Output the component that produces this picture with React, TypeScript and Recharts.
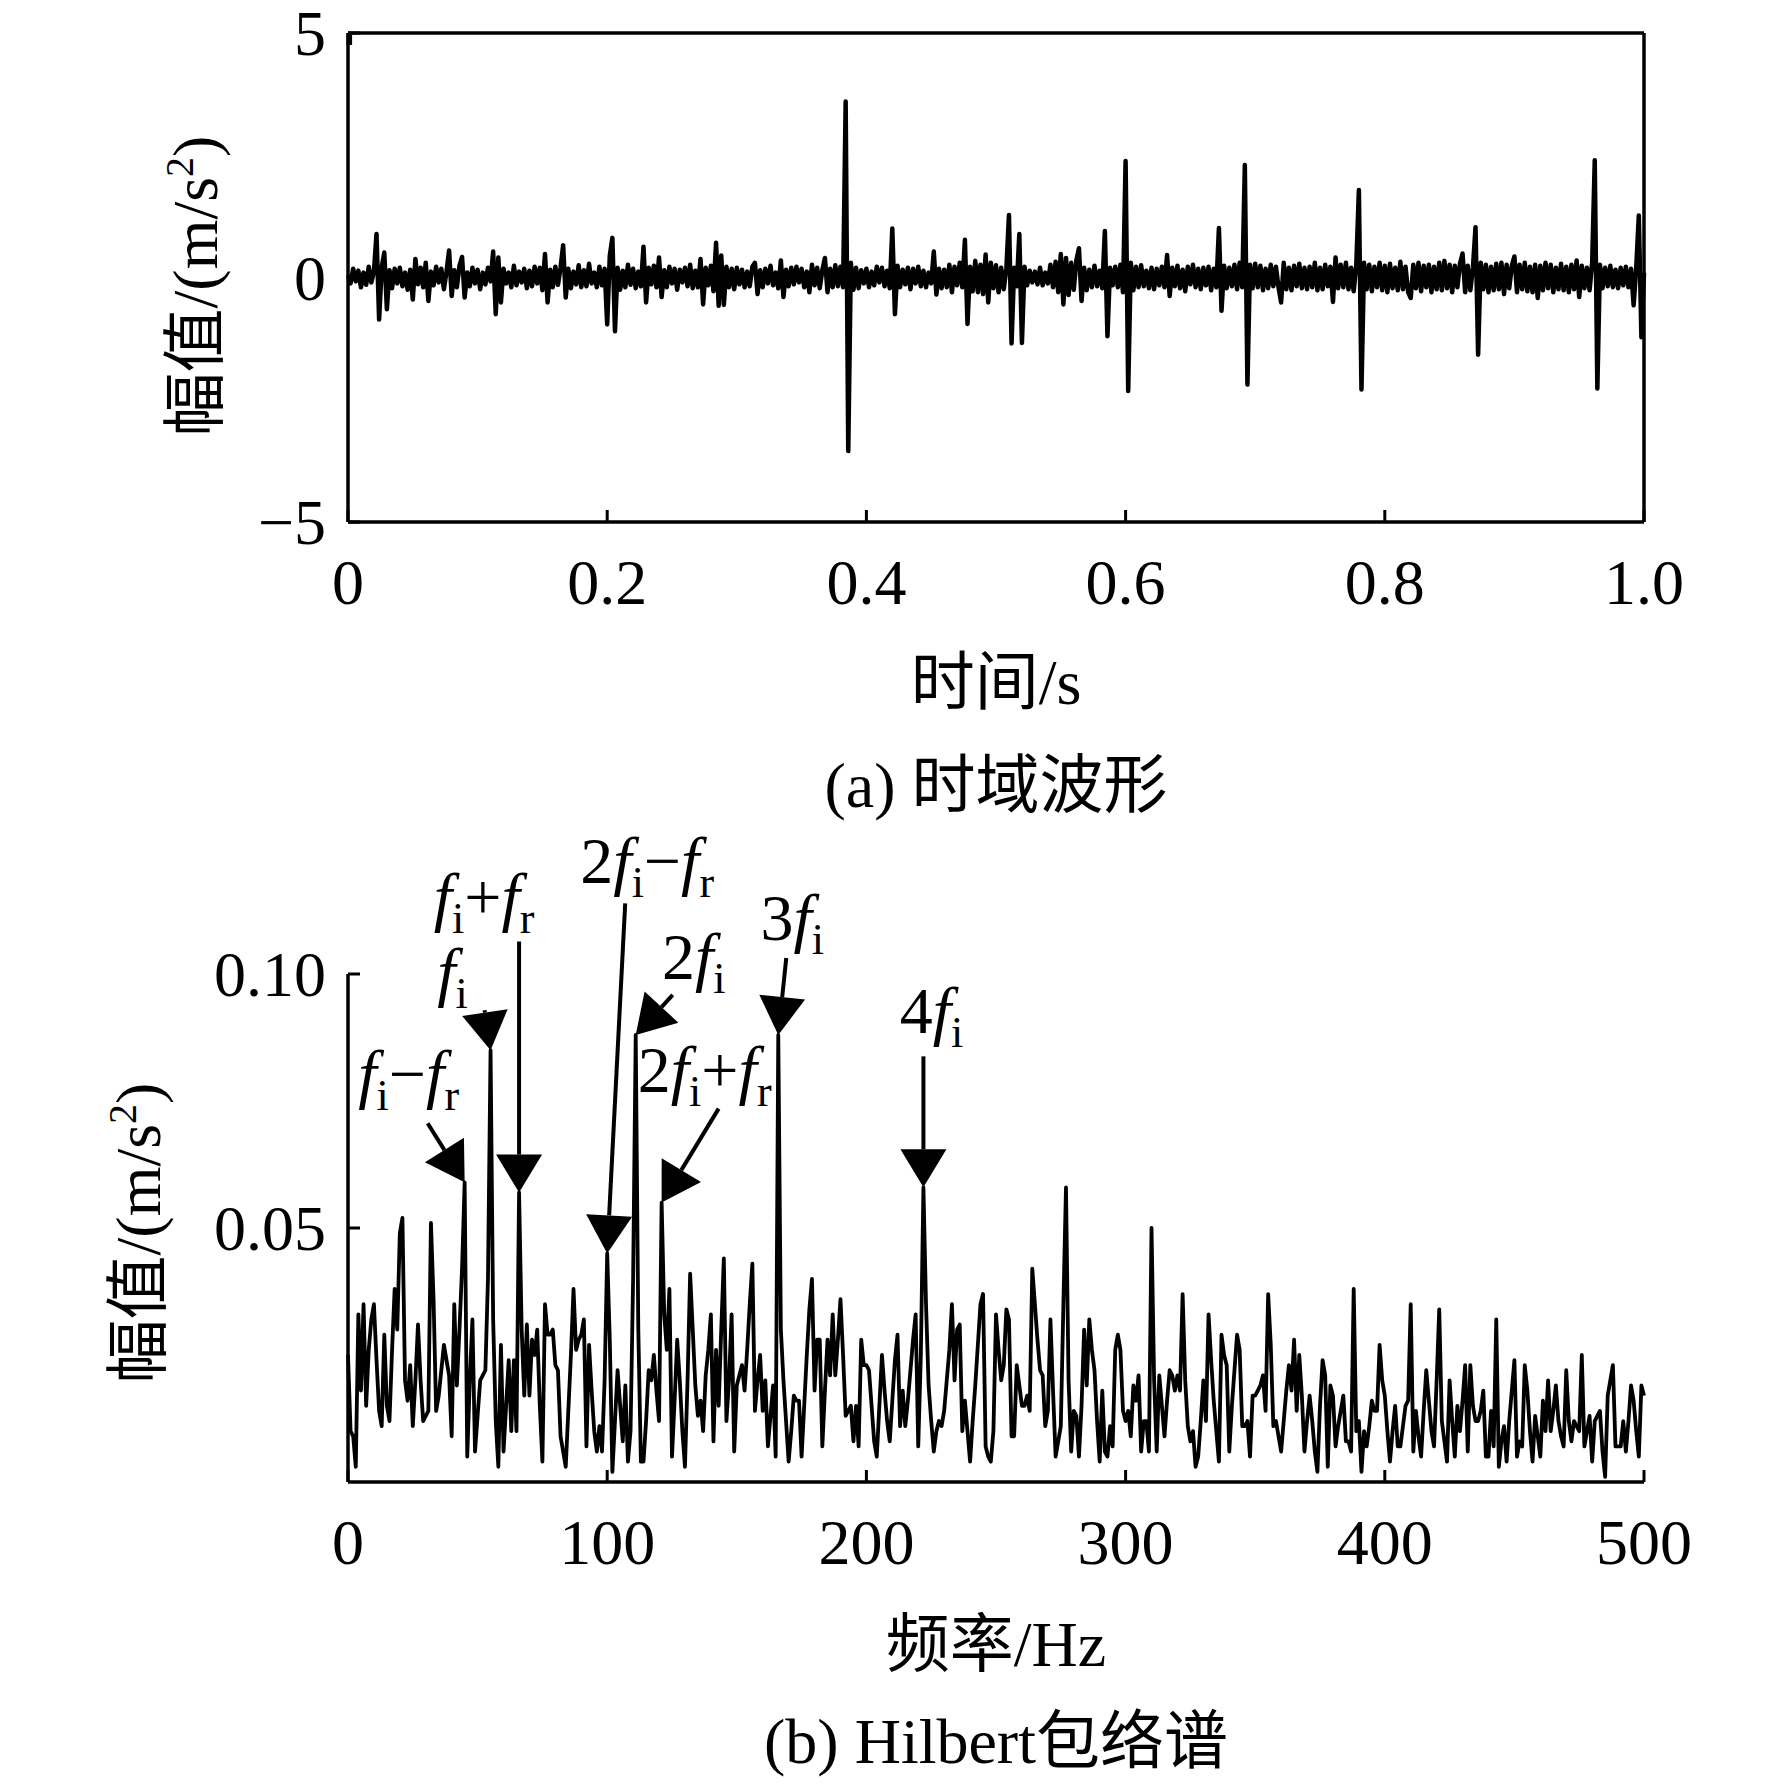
import React from "react";
import { LineChart, Line, XAxis, YAxis, ReferenceDot } from "recharts";

const FONT = '"Liberation Serif", "Times New Roman", "Noto Sans CJK SC", serif';

// axis ticks and their printed labels
const timeTicks = [0, 0.2, 0.4, 0.6, 0.8, 1.0];
const timeTickLabels = ["0", "0.2", "0.4", "0.6", "0.8", "1.0"];
const ampTicks = [-5, 0, 5];
const ampTickLabels = ["\u22125", "0", "5"];
const freqTicks = [0, 100, 200, 300, 400, 500];
const freqTickLabels = ["0", "100", "200", "300", "400", "500"];
const envTicks = [0.05, 0.1];
const envTickLabels = ["0.05", "0.10"];

// time waveform, one sample every 2 ms (m/s^2)
const sampleStep = 0.002;
const waveform = [
  0.05, -0.12, 0.18, -0.08, 0.14, -0.2, 0.1, -0.15, 0.22, -0.1,
  0.12, 0.89, -0.86, 0.2, 0.51, -0.65, 0.15, -0.22, 0.18, -0.12,
  0.2, -0.18, 0.1, -0.25, 0.16, -0.45, 0.38, -0.14, 0.2, -0.2,
  0.3, -0.48, 0.12, -0.16, 0.22, -0.1, 0.18, -0.24, 0.12, 0.55,
  -0.38, 0.15, -0.2, 0.24, 0.42, -0.41, 0.1, -0.18, 0.2, -0.12,
  0.16, -0.24, 0.1, -0.14, 0.2, -0.08, 0.53, -0.75, 0.41, -0.51,
  0.18, -0.12, 0.1, -0.2, 0.24, -0.16, 0.12, -0.1, 0.18, -0.22,
  0.14, -0.18, 0.22, -0.12, 0.2, -0.26, 0.48, -0.51, 0.16, -0.2,
  0.22, -0.15, 0.2, 0.66, -0.41, 0.18, -0.22, 0.12, -0.14, 0.25,
  -0.2, 0.15, -0.18, 0.28, -0.12, 0.1, -0.2, 0.22, -0.16, 0.18,
  -0.96, 0.45, 0.81, -1.1, 0.2, -0.25, 0.14, -0.2, 0.26, -0.15,
  0.18, -0.22, 0.12, -0.18, 0.63, -0.51, 0.2, -0.14, 0.24, -0.2,
  0.41, -0.4, 0.15, -0.2, 0.22, -0.12, 0.18, -0.25, 0.16, -0.1,
  0.2, -0.18, 0.26, -0.22, 0.14, -0.2, 0.38, -0.55, 0.2, -0.16,
  0.24, -0.28, 0.71, -0.58, 0.45, -0.56, 0.22, -0.2, 0.18, -0.24,
  0.2, -0.14, 0.16, -0.2, 0.12, -0.18, 0.22, 0.3, -0.34, 0.15,
  -0.2, 0.18, -0.12, 0.24, -0.16, 0.1, -0.22, 0.35, -0.4, 0.16,
  -0.18, 0.2, -0.14, 0.22, -0.1, 0.18, -0.2, 0.12, -0.3, 0.26,
  -0.16, 0.2, -0.22, 0.15, 0.4, -0.3, 0.18, -0.2, 0.25, -0.18,
  0.22, -0.2, 3.6, -3.55, 0.3, -0.25, 0.2, -0.22, 0.15, -0.12,
  0.18, -0.2, 0.12, -0.16, 0.22, -0.1, 0.2, -0.18, 0.14, -0.22,
  1.0, -0.75, 0.24, -0.2, 0.16, -0.14, 0.2, -0.24, 0.18, -0.12,
  0.22, -0.18, 0.14, -0.2, 0.1, -0.12, 0.53, -0.35, 0.18, -0.22,
  0.16, -0.2, 0.26, -0.3, 0.22, -0.16, 0.3, -0.2, 0.77, -0.95,
  0.22, -0.28, 0.34, -0.3, 0.26, -0.34, 0.47, -0.51, 0.3, -0.22,
  0.25, -0.3, 0.2, -0.24, 0.18, 1.28, -1.35, 0.2, -0.18, 0.89,
  -1.34, 0.22, -0.16, 0.14, -0.1, 0.12, -0.14, 0.2, -0.16, 0.1,
  -0.12, 0.26, -0.2, 0.32, -0.3, 0.48, -0.55, 0.4, -0.36, 0.3,
  -0.25, 0.35, 0.6, -0.48, 0.2, -0.26, 0.16, -0.2, 0.24, -0.18,
  0.14, -0.22, 0.95, -1.2, 0.2, -0.16, 0.22, -0.2, 0.26, -0.3,
  2.38, -2.32, 0.3, -0.26, 0.22, -0.2, 0.25, -0.18, 0.14, -0.22,
  0.2, -0.24, 0.18, -0.16, 0.22, -0.2, 0.46, -0.38, 0.2, -0.18,
  0.24, -0.22, 0.16, -0.28, 0.22, -0.14, 0.26, -0.2, 0.18, -0.24,
  0.2, -0.16, 0.22, -0.26, 0.18, -0.2, 1.01, -0.68, 0.24, -0.22,
  0.2, -0.18, 0.26, -0.24, 0.3, -0.2, 2.3, -2.19, 0.26, -0.22,
  0.28, -0.2, 0.24, -0.26, 0.18, -0.22, 0.26, -0.18, 0.22, -0.2,
  -0.51, 0.3, -0.24, 0.2, -0.26, 0.24, -0.18, 0.28, -0.22, 0.2,
  -0.24, 0.22, -0.2, 0.3, -0.26, 0.2, -0.24, 0.26, -0.18, 0.22,
  -0.5, 0.41, -0.22, 0.26, -0.2, 0.3, -0.24, 0.2, -0.28, 0.26,
  1.79, -2.29, 0.3, -0.24, 0.26, -0.28, 0.22, -0.2, 0.3, -0.26,
  0.24, -0.3, 0.28, -0.22, 0.2, -0.26, 0.32, -0.24, 0.22, -0.3,
  -0.42, 0.26, -0.22, 0.3, -0.28, 0.24, -0.2, 0.26, -0.3, 0.22,
  -0.24, 0.3, -0.26, 0.34, -0.22, 0.26, -0.3, 0.24, -0.2, 0.28,
  0.49, -0.3, 0.24, -0.26, 0.2, 1.03, -1.58, 0.3, -0.24, 0.26,
  -0.3, 0.22, -0.26, 0.28, -0.24, 0.3, -0.34, 0.26, -0.22, 0.24,
  0.43, -0.3, 0.26, -0.24, 0.3, -0.28, 0.22, -0.3, 0.26, -0.42,
  0.24, -0.26, 0.3, -0.22, 0.26, -0.3, 0.2, -0.24, 0.28, -0.26,
  0.22, -0.3, 0.26, -0.24, 0.35, -0.4, 0.24, -0.22, 0.2, -0.26,
  0.3, 2.4, -2.27, 0.26, -0.22, 0.2, -0.18, 0.24, -0.2, 0.16,
  -0.22, 0.2, -0.16, 0.22, -0.2, 0.18, -0.57, 0.2, 1.27, -1.22,
  0.1,
];

// Hilbert envelope spectrum, 1 Hz bins from 0 to 500 Hz (m/s^2)
const freqStep = 1;
const envelope = [
  .025, .010, .009, .003, .033, .018, .035, .015, .026, .032,
  .035, .024, .014, .011, .029, .015, .012, .026, .038, .030,
  .049, .052, .020, .016, .023, .011, .020, .031, .020, .012,
  .013, .014, .051, .036, .014, .017, .022, .027, .024, .021,
  .009, .035, .019, .030, .042, .059, .005, .020, .032, .006,
  .013, .020, .021, .022, .040, .085, .032, .012, .003, .027,
  .006, .015, .024, .010, .024, .010, .057, .030, .017, .031,
  .017, .028, .025, .030, .015, .004, .035, .029, .029, .030,
  .023, .022, .009, .006, .003, .014, .025, .038, .026, .028,
  .029, .032, .007, .027, .018, .010, .006, .011, .006, .020,
  .045, .028, .002, .012, .022, .015, .008, .019, .004, .010,
  .040, .088, .030, .004, .004, .012, .022, .020, .025, .018,
  .012, .055, .033, .026, .038, .005, .016, .028, .020, .010,
  .003, .020, .041, .030, .019, .013, .016, .010, .021, .026,
  .033, .008, .026, .015, .030, .044, .012, .020, .033, .006,
  .019, .021, .023, .018, .026, .035, .043, .014, .020, .025,
  .014, .020, .007, .013, .019, .005, .088, .030, .020, .012,
  .004, .010, .017, .016, .016, .005, .015, .025, .034, .040,
  .018, .028, .028, .007, .018, .028, .021, .033, .021, .028,
  .036, .025, .013, .014, .015, .008, .015, .007, .028, .023,
  .023, .022, .015, .008, .005, .015, .025, .018, .012, .008,
  .016, .024, .029, .011, .018, .011, .016, .022, .028, .033,
  .007, .025, .058, .035, .019, .012, .006, .010, .012, .011,
  .014, .020, .026, .035, .020, .030, .031, .010, .016, .010,
  .004, .012, .019, .027, .035, .037, .007, .005, .004, .010,
  .033, .026, .020, .023, .034, .032, .009, .009, .023, .019,
  .015, .015, .017, .014, .042, .035, .028, .022, .021, .011,
  .014, .032, .018, .005, .008, .011, .035, .058, .020, .006,
  .014, .013, .005, .015, .030, .019, .032, .026, .022, .012,
  .004, .018, .006, .005, .011, .007, .026, .029, .026, .014,
  .012, .014, .009, .019, .016, .021, .006, .012, .012, .006,
  .050, .020, .006, .021, .015, .009, .016, .022, .021, .018,
  .021, .018, .037, .020, .011, .008, .010, .003, .005, .012,
  .020, .012, .033, .024, .016, .010, .004, .029, .025, .023,
  .006, .015, .022, .029, .026, .011, .011, .012, .005, .017,
  .017, .018, .019, .021, .014, .037, .027, .011, .012, .009,
  .006, .012, .018, .023, .018, .028, .014, .025, .017, .006,
  .012, .017, .012, .006, .002, .015, .024, .021, .003, .019,
  .017, .007, .011, .014, .017, .008, .008, .006, .038, .010,
  .012, .002, .010, .007, .011, .016, .014, .014, .027, .020,
  .017, .010, .004, .010, .015, .007, .007, .011, .015, .016,
  .035, .006, .014, .009, .005, .014, .022, .016, .010, .007,
  .020, .034, .012, .008, .004, .020, .012, .005, .015, .010,
  .016, .023, .006, .023, .015, .012, .012, .014, .018, .005,
  .005, .014, .007, .032, .003, .008, .011, .004, .012, .018,
  .024, .005, .008, .007, .023, .018, .010, .004, .013, .009,
  .005, .016, .010, .020, .010, .014, .019, .012, .009, .007,
  .022, .012, .008, .012, .011, .010, .025, .007, .010, .013,
  .004, .012, .013, .014, .006, .001, .017, .020, .023, .007,
  .007, .007, .012, .006, .012, .019, .016, .010, .005, .019,
  .017,
];

// marked peaks: frequency bin and label ("_" = subscript, f is italic)
const peakBins = [45, 55, 66, 100, 111, 121, 166, 222];
const peakLabels = [
  "f_i\u2212f_r", "f_i", "f_i+f_r", "2f_i\u2212f_r",
  "2f_i", "2f_i+f_r", "3f_i", "4f_i",
];

// arrow tail and label baseline, in px relative to the arrow tip
const arrowLayout = [
  { tail: [-37, -59], label: [-56, -86] },
  { tail: [-6, -40], label: [-38, -56] },
  { tail: [0, -251], label: [-35, -273] },
  { tail: [18, -350], label: [40, -370] },
  { tail: [37, -40], label: [58, -56] },
  { tail: [57, -94], label: [43, -111] },
  { tail: [8, -77], label: [14, -95] },
  { tail: [0, -131], label: [8, -154] },
];

const waveData = waveform.map((v, i) => ({ t: Math.round(i * sampleStep * 1000) / 1000, a: v }));
const envData = envelope.map((v, i) => ({ hz: i * freqStep, e: v }));

const TICK_LEN = 12;
const AXIS = { stroke: "#000", strokeWidth: 3.5 };

function XTick(props: any) {
  const { x, y, index, labels, up } = props;
  return (
    <g>
      <line x1={x} y1={y} x2={x} y2={up ? y - TICK_LEN : y + TICK_LEN} stroke="#000" strokeWidth={3} />
      {labels ? (
        <text x={x} y={y + 82} textAnchor="middle" fontSize={64} fontFamily={FONT} fill="#000">
          {labels[index]}
        </text>
      ) : null}
    </g>
  );
}

function YTick(props: any) {
  const { x, y, index, labels, right } = props;
  return (
    <g>
      <line x1={x} y1={y} x2={right ? x - TICK_LEN : x + TICK_LEN} y2={y} stroke="#000" strokeWidth={3} />
      {labels ? (
        <text x={x - 22} y={y + 22} textAnchor="end" fontSize={64} fontFamily={FONT} fill="#000">
          {labels[index]}
        </text>
      ) : null}
    </g>
  );
}

function PeakText({ x, y, label }: { x: number; y: number; label: string }) {
  const parts: React.ReactNode[] = [];
  let shifted = false;
  for (let i = 0; i < label.length; i++) {
    const ch = label[i];
    if (ch === "_") {
      parts.push(
        <tspan key={i} fontSize={44} dy={shifted ? 0 : 14}>
          {label[i + 1]}
        </tspan>
      );
      shifted = true;
      i++;
      continue;
    }
    parts.push(
      <tspan key={i} fontStyle={ch === "f" ? "italic" : "normal"} dy={shifted ? -14 : 0}>
        {ch}
      </tspan>
    );
    shifted = false;
  }
  return (
    <text x={x} y={y} textAnchor="middle" fontSize={66} fontFamily={FONT} fill="#000">
      {parts}
    </text>
  );
}

function PeakArrow(props: any) {
  const { cx, cy, idx } = props;
  const { tail, label } = arrowLayout[idx];
  const tx = cx + tail[0];
  const ty = cy + tail[1];
  const len = Math.hypot(tail[0], tail[1]);
  const ux = -tail[0] / len;
  const uy = -tail[1] / len;
  const head = 38;
  const half = 23;
  const bx = cx - ux * head;
  const by = cy - uy * head;
  const px = -uy;
  const py = ux;
  const pts = `${cx},${cy} ${bx + px * half},${by + py * half} ${bx - px * half},${by - py * half}`;
  return (
    <g>
      <line x1={tx} y1={ty} x2={bx} y2={by} stroke="#000" strokeWidth={4} />
      <polygon points={pts} fill="#000" />
      <PeakText x={cx + label[0]} y={cy + label[1]} label={peakLabels[idx]} />
    </g>
  );
}

function Label({ cx, cy, rotate, children }: any) {
  return (
    <div
      style={{
        position: "absolute",
        left: cx,
        top: cy,
        transform: `translate(-50%, -50%)${rotate ? " rotate(-90deg)" : ""}`,
        fontSize: 64,
        lineHeight: 1,
        whiteSpace: "nowrap",
        fontFamily: FONT,
        color: "#000",
      }}
    >
      {children}
    </div>
  );
}

const ampUnit = (
  <>
    幅值/(m/s<span style={{ fontSize: 40, verticalAlign: "0.6em" }}>2</span>)
  </>
);

export default function App() {
  return (
    <div style={{ position: "absolute", left: 0, top: 0, width: 1772, height: 1790, background: "#fff", fontFamily: FONT }}>
      <div style={{ position: "absolute", left: 0, top: 0 }}>
        <LineChart width={1772} height={622} data={waveData} margin={{ top: 32, right: 127, bottom: 0, left: 248 }}>
          <XAxis
            dataKey="t"
            type="number"
            domain={[0, 1]}
            ticks={timeTicks}
            interval={0}
            height={100}
            axisLine={AXIS}
            tickLine={false}
            tickSize={0}
            tickMargin={0}
            tick={(p: any) => <XTick {...p} labels={timeTickLabels} up />}
          />
          <XAxis
            xAxisId="top"
            orientation="top"
            type="number"
            domain={[0, 1]}
            ticks={timeTicks}
            interval={0}
            height={1}
            axisLine={AXIS}
            tickLine={false}
            tickSize={0}
            tickMargin={0}
            tick={(p: any) => <XTick {...p} />}
          />
          <YAxis
            type="number"
            domain={[-5, 5]}
            ticks={ampTicks}
            interval={0}
            width={100}
            axisLine={AXIS}
            tickLine={false}
            tickSize={0}
            tickMargin={0}
            tick={(p: any) => <YTick {...p} labels={ampTickLabels} />}
          />
          <YAxis
            yAxisId="right"
            orientation="right"
            type="number"
            domain={[-5, 5]}
            ticks={ampTicks}
            interval={0}
            width={1}
            axisLine={AXIS}
            tickLine={false}
            tickSize={0}
            tickMargin={0}
            tick={(p: any) => <YTick {...p} right />}
          />
          <Line
            type="linear"
            dataKey="a"
            stroke="#000"
            strokeWidth={4.5}
            strokeLinejoin="round"
            dot={false}
            activeDot={false}
            isAnimationActive={false}
          />
        </LineChart>
      </div>
      <Label cx={996} cy={683}>时间/s</Label>
      <Label cx={996} cy={786}>(a) 时域波形</Label>
      <Label cx={194} cy={286} rotate>{ampUnit}</Label>

      <div style={{ position: "absolute", left: 0, top: 700 }}>
        <LineChart width={1772} height={882} data={envData} margin={{ top: 274, right: 128, bottom: 0, left: 248 }}>
          <XAxis
            dataKey="hz"
            type="number"
            domain={[0, 500]}
            ticks={freqTicks}
            interval={0}
            height={100}
            axisLine={AXIS}
            tickLine={false}
            tickSize={0}
            tickMargin={0}
            tick={(p: any) => <XTick {...p} labels={freqTickLabels} up />}
          />
          <YAxis
            type="number"
            domain={[0, 0.1]}
            ticks={envTicks}
            interval={0}
            width={100}
            axisLine={AXIS}
            tickLine={false}
            tickSize={0}
            tickMargin={0}
            tick={(p: any) => <YTick {...p} labels={envTickLabels} />}
          />
          <Line
            type="linear"
            dataKey="e"
            stroke="#000"
            strokeWidth={3.8}
            strokeLinejoin="round"
            dot={false}
            activeDot={false}
            isAnimationActive={false}
          />
          {peakBins.map((hz, idx) => (
            <ReferenceDot
              key={hz}
              x={hz}
              y={envelope[hz / freqStep]}
              r={0}
              ifOverflow="visible"
              shape={(p: any) => <PeakArrow {...p} idx={idx} />}
            />
          ))}
        </LineChart>
      </div>
      <Label cx={996} cy={1645}>频率/Hz</Label>
      <Label cx={996} cy={1742}>(b) Hilbert包络谱</Label>
      <Label cx={137} cy={1233} rotate>{ampUnit}</Label>
    </div>
  );
}
